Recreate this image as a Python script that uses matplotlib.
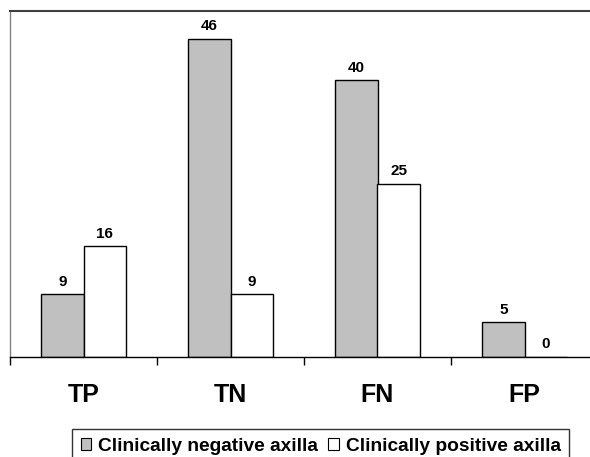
import matplotlib
matplotlib.use("Agg")
import matplotlib.pyplot as plt
from matplotlib.patches import Patch
import numpy as np

categories = ["TP", "TN", "FN", "FP"]
neg_values = [9, 46, 40, 5]
pos_values = [16, 9, 25, 0]
series_names = ["Clinically negative axilla", "Clinically positive axilla"]

plt.rcParams['font.family'] = ['Liberation Sans', 'DejaVu Sans']

W, H = 590, 457
fig = plt.figure(figsize=(W / 100, H / 100), dpi=100)
ax = fig.add_axes([10 / W, (H - 356.7) / H, 588 / W, (356.7 - 11) / H])

x = np.arange(len(categories))
bw = 0.286
b1 = ax.bar(x - bw / 2, neg_values, bw, color="#C0C0C0", edgecolor="black", linewidth=1)
b2 = ax.bar(x + bw / 2, pos_values, bw, color="white", edgecolor="black", linewidth=1)

for rects, vals in ((b1, neg_values), (b2, pos_values)):
    for r, v in zip(rects, vals):
        ax.annotate(str(v), (r.get_x() + r.get_width() / 2, r.get_height()),
                    xytext=(0, 4), textcoords="offset points", ha="center", va="bottom",
                    fontsize=11, fontweight="bold")

ax.set_xlim(-0.5, 3.5)
ax.set_ylim(0, 50)
ax.set_yticks([])
ax.set_xticks(x)
ax.set_xticklabels(categories, fontsize=18, fontweight="bold")
ax.set_xticks(np.arange(-0.5, 4, 1), minor=True)
ax.tick_params(axis="x", which="major", length=0, pad=19)
ax.tick_params(axis="x", which="minor", length=6, width=1, color="black", direction="out")

ax.spines["left"].set_color("#808080")
ax.spines["left"].set_linewidth(1)
ax.spines["top"].set_color("#404040")
ax.spines["top"].set_linewidth(1.5)
ax.spines["bottom"].set_color("black")
ax.spines["bottom"].set_linewidth(1)
ax.spines["right"].set_color("#808080")

handles = [Patch(facecolor="#C0C0C0", edgecolor="black", linewidth=0.8),
           Patch(facecolor="white", edgecolor="black", linewidth=0.8)]
leg = fig.legend(handles, series_names, loc="upper left", bbox_to_anchor=(72 / W, (H - 429) / H),
                 ncol=2, frameon=True, fancybox=False, shadow=False, borderaxespad=0,
                 prop={"size": 13.8, "weight": "bold"}, handlelength=0.55, handleheight=0.55,
                 handletextpad=0.35, columnspacing=0.55, borderpad=0.45)
leg.get_frame().set_edgecolor("black")
leg.get_frame().set_linewidth(1)

fig.savefig("out.png", dpi=100)
